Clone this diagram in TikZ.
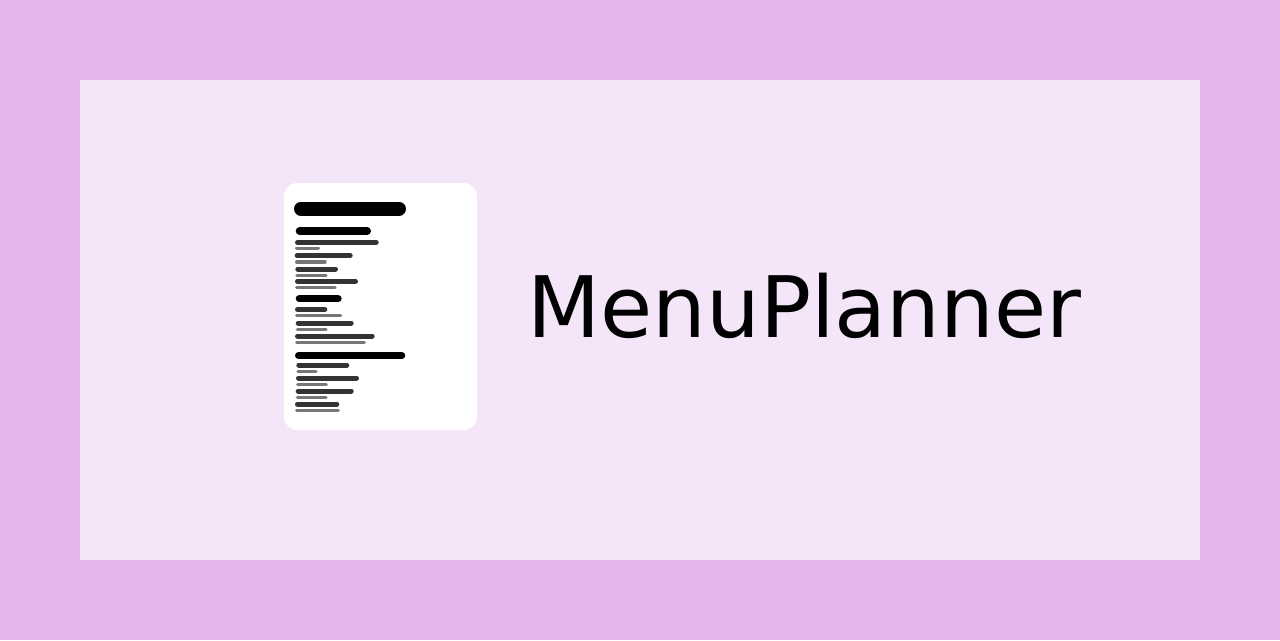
\documentclass[tikz,border=0pt]{standalone}
\usepackage{fontspec}
\setmainfont{DejaVu Sans}
\definecolor{outerbg}{HTML}{E5B6ED}
\definecolor{innerbg}{HTML}{F4E6F8}
\definecolor{headbar}{HTML}{000000}
\definecolor{itembar}{HTML}{333333}
\definecolor{subbar}{HTML}{777777}
\tikzset{
  px/.style={x=0.75pt,y=-0.75pt},
  wordmark/.style={font=\fontsize{63.6}{78}\selectfont,text=black,inner sep=0pt,anchor=base west}
}
\newcommand{\mpbars}[2]{%
  \foreach \xa/\ya/\xb/\yb in {#2}{%
    \pgfmathsetmacro{\hh}{\yb-\ya+0.4}%
    \pgfmathsetmacro{\yc}{(\ya+\yb)/2}%
    \draw[#1,line cap=round,line width=\hh*0.75pt] (\xa+\hh/2,\yc) -- (\xb-\hh/2,\yc);
  }%
}
\begin{document}
\begin{tikzpicture}[px]
\useasboundingbox (0,0) rectangle (1280,640);
\fill[outerbg] (0,0) rectangle (1280,640);
\fill[innerbg] (80,80) rectangle (1200,560);
\fill[white,rounded corners=10pt] (284,183) rectangle (477,430);
\mpbars{headbar}{294/202/406/215.3, 295.7/227.3/371/234.7, 295.7/295.3/341.7/302, 295/352.3/405.3/359}
\mpbars{itembar}{295/240/378.7/244.7, 294.7/253.3/352.7/258, 295.3/266.7/338/271.3, 295/279/358/283.7,
  295/307/327.3/311.7, 295.7/320.7/353.7/325.3, 295/333.7/374.7/338.3,
  296.3/362.7/349.3/367.3, 296/375.7/359/380.3, 295.7/388.7/353.7/393.3, 295/401.7/339.3/406.3}
\mpbars{subbar}{295/246.7/320/250, 295/260/326.7/263.3, 295.3/273.7/327.7/276.7, 295/285.7/336.7/288.7,
  295/314/342.3/317, 295.7/327.7/327.7/330.7, 295/340.7/366/343.7,
  296.3/369.7/317.7/372.7, 296/382.7/328/385.7, 295.7/395.7/327.7/398.7, 295/408.7/340/411.7}
\node[wordmark] (title) at (527,337) {MenuPlanner};
\end{tikzpicture}
\end{document}
